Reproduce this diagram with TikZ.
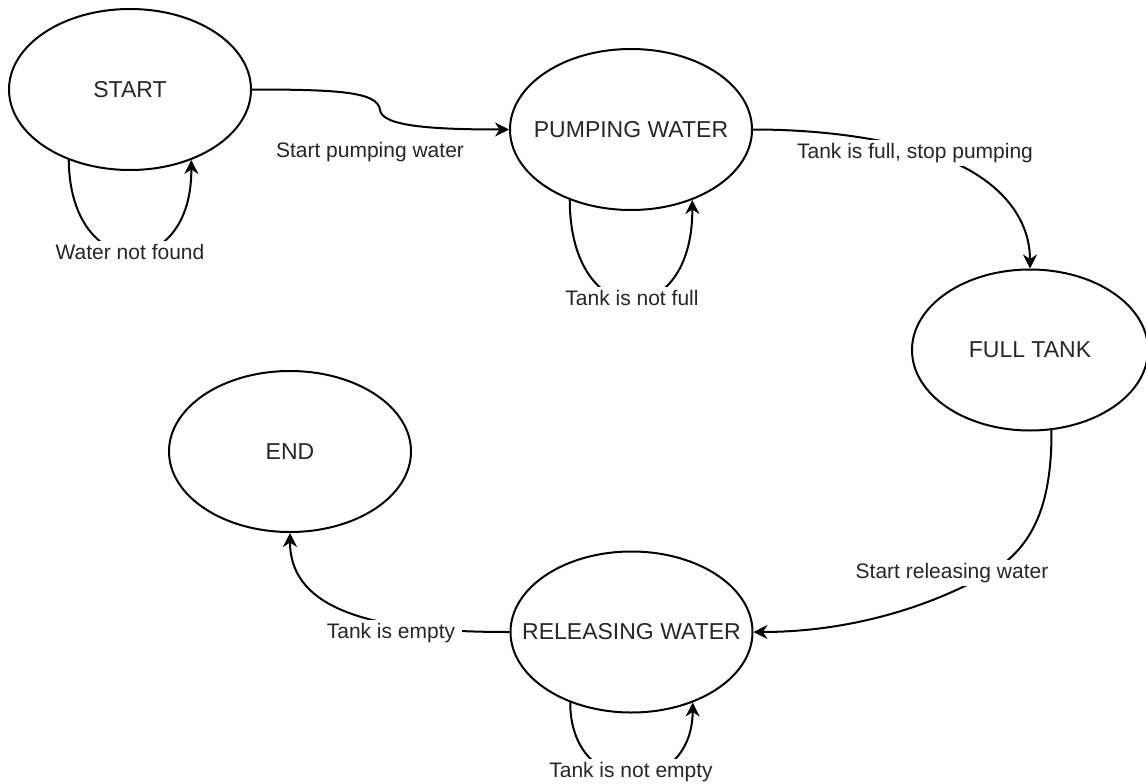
\documentclass[tikz,border=0pt]{standalone}
\usepackage{fontspec}
\setmainfont{Liberation Sans}
\usetikzlibrary{arrows.meta,shapes.geometric}
\begin{document}
\begin{tikzpicture}[x=1pt,y=-1pt,
  state/.style={draw, ellipse, line width=2pt, minimum width=242pt, minimum height=161pt,
    inner sep=0pt, label={[statetext]center:#1}},
  statetext/.style={inner sep=0pt, font=\fontsize{23}{27}\selectfont, text=black!85},
  trans/.style={line width=2pt, -{Stealth[length=14pt,width=14pt,inset=4.5pt]}},
  elabel/.style={fill=white, inner sep=3pt, font=\fontsize{21}{25}\selectfont, text=black!85}]
\useasboundingbox (0,0) rectangle (1146,784);

% states
\node[state=START] (S) at (130,89.5) {};
\node[state=PUMPING WATER] (P) at (631,129.5) {};
\node[state=FULL TANK, minimum width=236pt] (F) at (1030,350) {};
\node[state=END] (E) at (290,451.5) {};
\node[state=RELEASING WATER] (R) at (631.5,632) {};

% transitions
\draw[trans] (S.east) .. controls (340,89.5) and (378,92) .. (380,110)
  .. controls (382,126) and (430,129.5) .. (P.west);
\draw[trans] (P.east) .. controls (820,129.5) and (880,138) .. (925,152)
  .. controls (988,170) and (1030,210) .. (F.north);
\draw[trans] (F.285) .. controls (1052,510) and (1030,550) .. (988,574)
  .. controls (920,612) and (840,632) .. (R.east);
\draw[trans] (R.west) .. controls (400,632) and (290,620) .. (E.south);

% self loops
\draw[trans] (S.229) .. controls (70,283) and (192,283) .. (S.311);
\draw[trans] (P.229) .. controls (570,333) and (693,333) .. (P.311);
\draw[trans] (R.229) .. controls (570,800) and (692,800) .. (R.311);

% transition labels
\node[elabel] (l1) at (370,152) {Start pumping water};
\node[elabel] (l2) at (915,153) {Tank is full, stop pumping};
\node[elabel] (l3) at (952,573) {Start releasing water};
\node[elabel, inner xsep=7pt] (l4) at (391,633) {Tank is empty};
\node[elabel] (l5) at (130,252) {Water not found};
\node[elabel] (l6) at (632,298) {Tank is not full};
\node[elabel] (l7) at (631,772) {Tank is not empty};
\end{tikzpicture}
\end{document}
